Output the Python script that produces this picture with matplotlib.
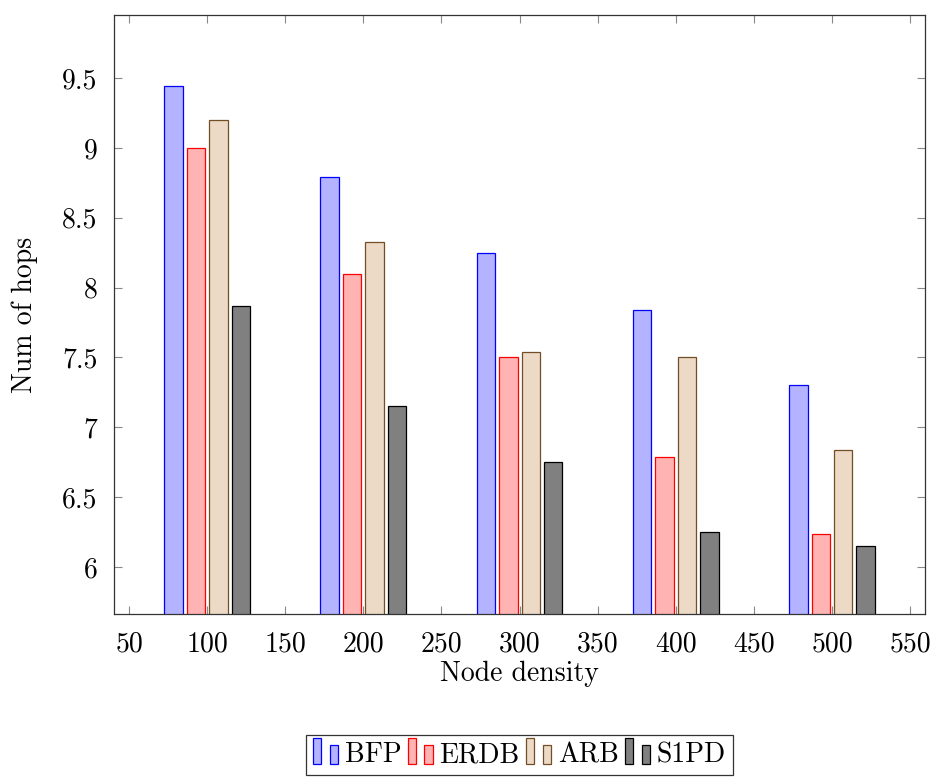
import numpy as np
import matplotlib
matplotlib.use("Agg")
import matplotlib.pyplot as plt
from matplotlib.patches import Rectangle
from matplotlib.legend_handler import HandlerBase

plt.rcParams['font.family'] = 'serif'
plt.rcParams['font.serif'] = ['cmr10', 'DejaVu Serif']
plt.rcParams['mathtext.fontset'] = 'cm'
plt.rcParams['axes.formatter.use_mathtext'] = True

# data
density = [100, 200, 300, 400, 500]
bfp = [9.44, 8.79, 8.25, 7.84, 7.30]
erdb = [9.00, 8.10, 7.50, 6.79, 6.24]
arb = [9.20, 8.33, 7.54, 7.50, 6.84]
s1pd = [7.87, 7.15, 6.75, 6.25, 6.15]
series_names = ['BFP', 'ERDB', 'ARB', 'S1PD']
xticks = [50, 100, 150, 200, 250, 300, 350, 400, 450, 500, 550]
yticks = [6, 6.5, 7, 7.5, 8, 8.5, 9, 9.5]


class TwoBarHandler(HandlerBase):
    # pgfplots style legend image: two small bars
    def create_artists(self, legend, orig_handle, xdescent, ydescent,
                       width, height, fontsize, trans):
        fc = orig_handle.get_facecolor()
        ec = orig_handle.get_edgecolor()
        w = width * 0.3
        r1 = Rectangle((-xdescent, -ydescent - 0.1 * height), w, height * 1.35,
                       facecolor=fc, edgecolor=ec, lw=0.9, transform=trans)
        r2 = Rectangle((-xdescent + width * 0.6, -ydescent - 0.1 * height), w, height * 1.0,
                       facecolor=fc, edgecolor=ec, lw=0.9, transform=trans)
        return [r1, r2]


fig = plt.figure(figsize=(9.36, 7.79), dpi=100)
ax = fig.add_axes([0.1218, 0.2118, 0.8665, 0.7689])

x = np.array(density, dtype=float)
bw = 11.8
step = 14.35
styles = [('#b3b3ff', '#0000ff'), ('#ffb3b3', '#ff0000'),
          ('#ecd9c6', '#734d26'), ('#808080', '#000000')]
handles = []
for i, (vals, (fc, ec)) in enumerate(zip([bfp, erdb, arb, s1pd], styles)):
    off = (i - 1.5) * step
    b = ax.bar(x + off, vals, width=bw, color=fc, edgecolor=ec, linewidth=0.9,
               label=series_names[i], zorder=2)
    handles.append(b.patches[0])

ax.set_xlim(40.4, 559.6)
ax.set_ylim(5.664, 9.951)
ax.set_xticks(xticks)
ax.set_xticklabels([str(t) for t in xticks])
ax.set_yticks(yticks)
ax.set_yticklabels([('%g' % t) for t in yticks])
ax.tick_params(direction='in', length=6, width=0.8, color='#888888',
               top=True, right=True, labelsize=20, pad=12)
for s in ax.spines.values():
    s.set_linewidth(0.9)
    s.set_color('#333333')

ax.set_xlabel('Node density', fontsize=20, labelpad=3)
ax.set_ylabel('Num of hops', fontsize=20, labelpad=17)

leg = fig.legend(handles, series_names, loc='upper center',
                 bbox_to_anchor=(0.555, 0.0565), bbox_transform=fig.transFigure,
                 ncol=4, fontsize=20, frameon=True, fancybox=False,
                 handler_map={h: TwoBarHandler() for h in handles},
                 handlelength=1.0, handletextpad=0.15, columnspacing=0.22,
                 borderpad=0.25, borderaxespad=0)
leg.get_frame().set_edgecolor('#000000')
leg.get_frame().set_linewidth(0.9)

fig.savefig('out.png', dpi=100)
